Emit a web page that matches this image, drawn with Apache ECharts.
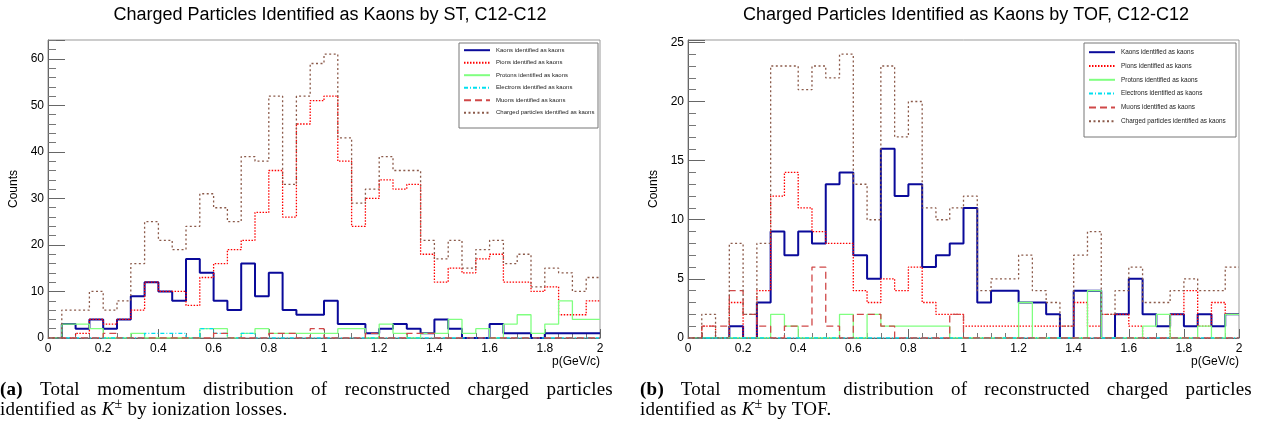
<!DOCTYPE html>
<html>
<head>
<meta charset="utf-8">
<script src="https://cdn.jsdelivr.net/npm/echarts@6/dist/echarts.min.js"></script>
<style>
  html, body { margin: 0; padding: 0; background: #fff; }
  #wrap { position: relative; width: 1268px; height: 426px; overflow: hidden; }
  #chart { position: absolute; left: 0; top: 0; width: 1268px; height: 426px; }
  .cap { position: absolute; font-family: "Liberation Serif", serif; font-size: 19px; line-height: 20px; letter-spacing: 0.25px; color: #000; }
  .cap .l1 { text-align: justify; text-align-last: justify; }
  .cap sup { font-size: 14px; position: relative; top: -7px; vertical-align: baseline; line-height: 0; }
</style>
</head>
<body>
<div id="wrap">
  <div id="chart"></div>
  <div class="cap" style="left:0px; top:379px; width:613px;">
    <div class="l1"><b>(a)</b> Total momentum distribution of reconstructed charged particles</div>
    <div>identified as <i>K</i><sup>±</sup> by ionization losses.</div>
  </div>
  <div class="cap" style="left:640px; top:379px; width:612px;">
    <div class="l1"><b>(b)</b> Total momentum distribution of reconstructed charged particles</div>
    <div>identified as <i>K</i><sup>±</sup> by TOF.</div>
  </div>
</div>
<script>
// 40 bins of 0.05 GeV/c from 0 to 2
const BIN = 0.05

const names = [
  'Kaons identified as kaons',
  'Pions identified as kaons',
  'Protons identified as kaons',
  'Electrons identified as kaons',
  'Muons identified as kaons',
  'Charged particles identified as kaons'
]

// ST (ionization losses)
const kaonsST = [0,3,2,4,2,4,9,12,10,8, 17,14,8,6,16,9,14,6,5,5, 8,3,3,1,2,3,2,1,4,2, 0,0,3,1,1,0,1,1,1,1]
const pionsST = [0,0,1,4,3,4,6,12,10,10, 7,13,16,19,21,27,36,26,46,51, 52,38,24,30,34,32,33,18,12,15, 14,17,18,12,12,10,11,5,5,8]
const protonsST = [0,3,3,2,0,0,1,0,0,0, 0,2,2,0,1,2,1,1,1,1, 1,2,2,0,3,1,0,1,1,4, 1,2,0,3,5,1,3,8,4,4]
const electronsST = [0,0,0,0,0,0,0,1,1,1, 0,2,1,0,1,0,0,0,0,0, 0,0,0,0,0,0,0,0,0,0, 0,0,0,0,0,0,0,0,0,0]
const muonsST = [0,0,0,0,1,0,0,0,0,0, 0,0,1,0,0,0,1,1,0,2, 0,0,0,1,0,0,1,1,0,0, 0,0,0,0,0,0,0,0,0,0]
const chargedST = [0,6,6,10,6,8,16,25,21,19, 24,31,28,25,39,38,52,33,52,59, 61,43,29,32,39,36,36,21,17,21, 15,19,21,16,18,11,15,14,10,13]

// TOF
const kaonsTOF = [0,0,0,1,0,3,9,7,9,8, 13,14,7,5,16,12,13,6,7,8, 11,3,4,4,3,3,2,0,4,4, 0,2,5,2,1,2,1,2,1,2]
const pionsTOF = [0,1,0,3,0,4,12,14,11,9, 8,8,4,3,5,4,6,3,2,2, 1,1,1,1,1,1,1,1,3,1, 2,2,1,0,0,2,4,1,3,2]
const protonsTOF = [0,0,0,0,0,0,2,1,0,0, 0,2,0,2,1,1,1,1,1,0, 0,0,0,0,3,0,0,0,0,4, 0,0,0,1,2,0,0,1,0,2]
const electronsTOF = [0,0,0,0,0,0,0,0,0,0, 0,0,0,0,0,0,0,0,0,0, 0,0,0,0,0,0,0,0,0,0, 0,0,0,0,0,0,0,0,0,0]
const muonsTOF = [0,1,1,4,2,1,0,1,1,6, 1,0,2,2,1,0,0,0,0,2, 0,0,0,0,0,0,0,0,0,0, 0,0,0,0,0,0,0,0,0,0]
const chargedTOF = [0,2,0,8,2,8,23,23,21,23, 22,24,13,10,23,17,20,11,10,11, 12,4,5,5,7,4,3,1,7,9, 2,4,6,3,3,4,5,4,4,6]

const styles = [
  { color: '#0a0a9a', width: 2, type: 'solid' },
  { color: '#ff0000', width: 1.3, type: [1.5, 1.5] },
  { color: '#80ff80', width: 1.3, type: 'solid' },
  { color: '#00e0f0', width: 1.3, type: [4, 2, 1, 2] },
  { color: '#d04848', width: 1.3, type: [7, 4] },
  { color: '#8b5a4a', width: 1.3, type: [2, 2.5] }
]

const panels = [
  [kaonsST, pionsST, protonsST, electronsST, muonsST, chargedST],
  [kaonsTOF, pionsTOF, protonsTOF, electronsTOF, muonsTOF, chargedTOF]
]
const yMax = [64.05, 25.2]
const yStep = [10, 5]
const yMinor = [5, 5]

// histogram outline: left edge of every bin plus the last right edge
const steps = vals => {
  const pts = vals.map((v, i) => [+(i * BIN).toFixed(2), v])
  pts.push([2, vals[vals.length - 1]])
  return pts
}

const font = '"Liberation Sans", Arial, sans-serif'
const grids = [
  { left: 48, top: 40, width: 552, height: 298 },
  { left: 688, top: 40, width: 551, height: 298 }
]

const xAxes = grids.map((g, i) => ({
  type: 'value', gridIndex: i, min: 0, max: 2, interval: 0.2,
  axisLine: { show: true, lineStyle: { color: '#666', width: 1 } },
  axisTick: { show: true, inside: true, length: 9, lineStyle: { color: '#666' } },
  minorTick: { show: true, splitNumber: 4, length: 5, lineStyle: { color: '#777' } },
  splitLine: { show: false },
  axisLabel: { color: '#000', fontSize: 12, fontFamily: font, margin: 5 }
}))
const yAxes = grids.map((g, i) => ({
  type: 'value', gridIndex: i, min: 0, max: yMax[i], interval: yStep[i],
  name: 'Counts', nameLocation: 'middle', nameGap: 28,
  nameTextStyle: { color: '#000', fontSize: 12, fontFamily: font },
  axisLine: { show: true, lineStyle: { color: '#666', width: 1 } },
  axisTick: { show: true, inside: true, length: 17, lineStyle: { color: '#666' } },
  minorTick: { show: true, splitNumber: yMinor[i], length: 8, lineStyle: { color: '#777' } },
  splitLine: { show: false },
  axisLabel: {
    color: '#000', fontSize: 12, fontFamily: font, margin: 4, showMaxLabel: false,
    formatter: v => (Math.abs(v / yStep[i] - Math.round(v / yStep[i])) < 1e-6 ? String(Math.round(v)) : '')
  }
}))

const series = []
panels.forEach((hists, p) => {
  hists.forEach((vals, s) => {
    series.push({
      type: 'line', name: names[s], xAxisIndex: p, yAxisIndex: p,
      step: 'end', symbol: 'none', data: steps(vals),
      lineStyle: styles[s], itemStyle: { color: styles[s].color },
      animation: false, z: 3 + s
    })
  })
})

const legends = [
  { left: 463, top: 47, itemGap: 6.1, fontSize: 6 },
  { left: 1088, top: 49, itemGap: 7.4, fontSize: 6.4 }
].map(l => ({
  data: names, orient: 'vertical', left: l.left, top: l.top, padding: 0, z: 100,
  itemWidth: 26, itemHeight: 8, itemGap: l.itemGap, selectedMode: false,
  itemStyle: { opacity: 0 },
  textStyle: { fontSize: l.fontSize, fontFamily: font, color: '#222', padding: [0, 0, 0, 1] }
}))

const chart = echarts.init(document.getElementById('chart'), null, { renderer: 'canvas' })
chart.setOption({
  backgroundColor: '#fff',
  animation: false,
  grid: grids.map(g => ({ ...g, show: true, borderColor: '#999', borderWidth: 1, backgroundColor: 'transparent' })),
  xAxis: xAxes,
  yAxis: yAxes,
  legend: legends,
  series,
  graphic: [
    { type: 'rect', shape: { x: 459, y: 43, width: 139, height: 85 }, style: { fill: '#fff', stroke: '#777', lineWidth: 1 }, z: 50, silent: true },
    { type: 'rect', shape: { x: 1084, y: 43, width: 152, height: 94 }, style: { fill: '#fff', stroke: '#777', lineWidth: 1 }, z: 50, silent: true },
    { type: 'text', x: 330, y: 15, style: { text: 'Charged Particles Identified as Kaons by ST, C12-C12', font: '18px ' + font, fill: '#000', textAlign: 'center', textVerticalAlign: 'middle' } },
    { type: 'text', x: 966, y: 15, style: { text: 'Charged Particles Identified as Kaons by TOF, C12-C12', font: '18px ' + font, fill: '#000', textAlign: 'center', textVerticalAlign: 'middle' } },
    { type: 'text', x: 600, y: 362, style: { text: 'p(GeV/c)', font: '12px ' + font, fill: '#000', textAlign: 'right', textVerticalAlign: 'middle' } },
    { type: 'text', x: 1239, y: 362, style: { text: 'p(GeV/c)', font: '12px ' + font, fill: '#000', textAlign: 'right', textVerticalAlign: 'middle' } }
  ]
})
</script>
</body>
</html>
